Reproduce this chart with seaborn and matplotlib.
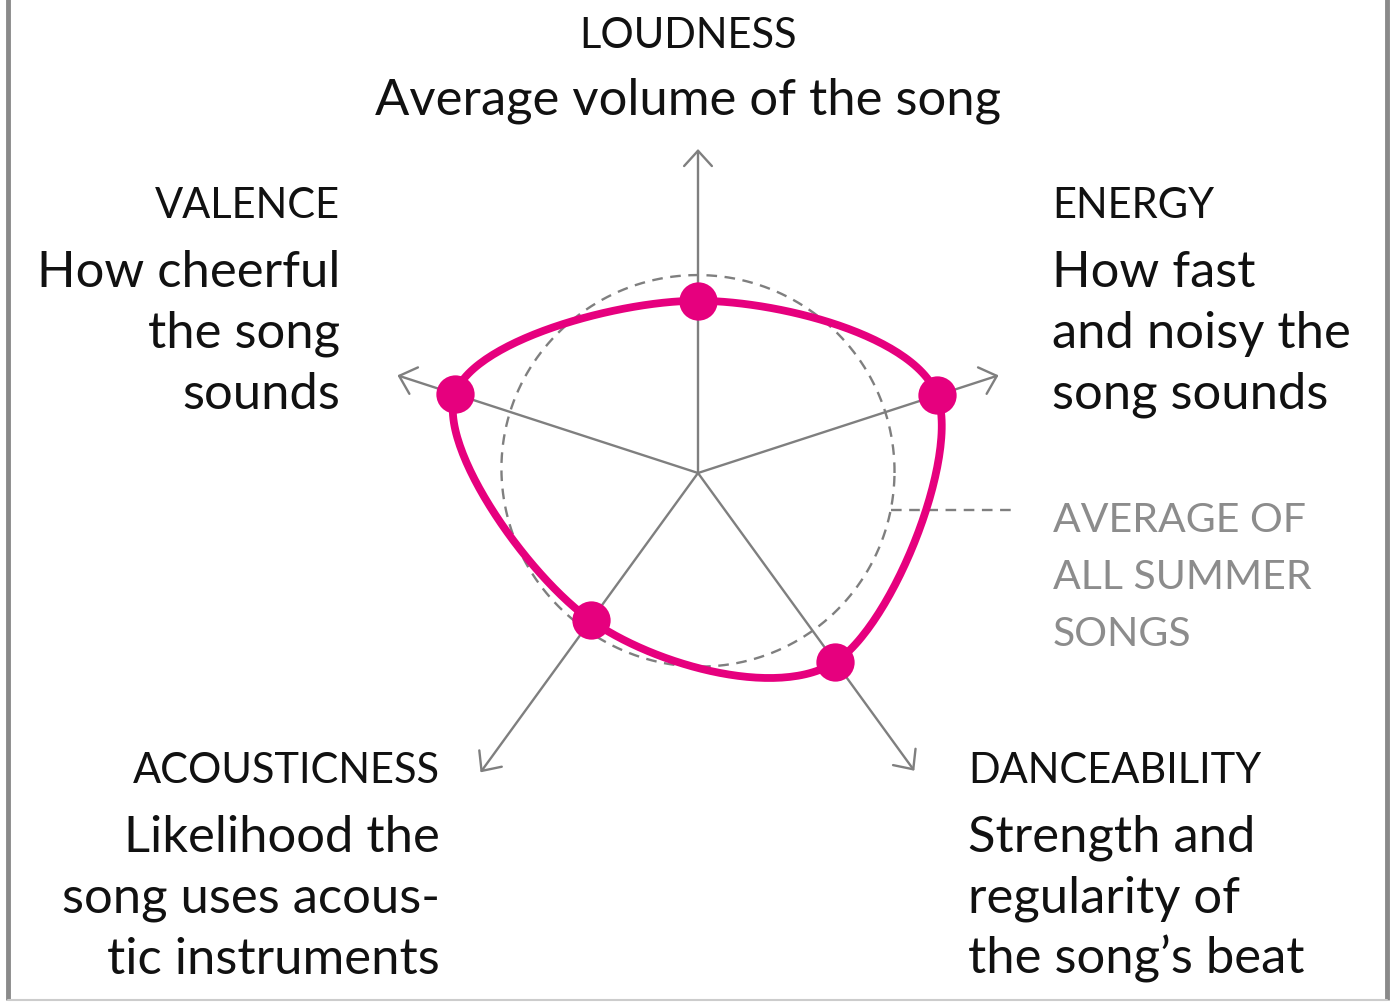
import numpy as np
import pandas as pd
import seaborn as sns
import matplotlib.pyplot as plt

# radar values, relative to the average summer song (1.0 = average)
features = ["LOUDNESS", "ENERGY", "DANCEABILITY", "ACOUSTICNESS", "VALENCE"]
descriptions = [
    ["Average volume of the song"],
    ["How fast", "and noisy the", "song sounds"],
    ["Strength and", "regularity of", "the song\u2019s beat"],
    ["Likelihood the", "song uses acous-", "tic instruments"],
    ["How cheerful", "the song", "sounds"],
]
song_values = [0.87, 1.27, 1.18, 0.92, 1.29]
average_values = [1.0, 0.995, 0.985, 0.97, 1.0]
average_label = ["AVERAGE OF", "ALL SUMMER", "SONGS"]

PINK = "#E6007E"
GREY = "#7f7f7f"
FONT = "Lato"


def set_style():
    sns.set_style("white")
    plt.rcParams["font.family"] = FONT


def catmull_rom_closed(pts, n=60):
    """Closed Catmull-Rom spline through the points (like d3 curveCardinalClosed)"""
    pts = np.asarray(pts)
    k = len(pts)
    out = []
    for i in range(k):
        p0, p1, p2, p3 = pts[i - 1], pts[i], pts[(i + 1) % k], pts[(i + 2) % k]
        t = np.linspace(0, 1, n, endpoint=False)[:, None]
        out.append(
            0.5
            * (
                2 * p1
                + (-p0 + p2) * t
                + (2 * p0 - 5 * p1 + 4 * p2 - p3) * t**2
                + (-p0 + 3 * p1 - 3 * p2 + p3) * t**3
            )
        )
    out.append(pts[:1])
    return np.vstack(out)


def polar_smooth(values, angles, n=400):
    """Smooth radius over angle (periodic), used for the average ring"""
    a = np.linspace(0, 2 * np.pi, n)
    order = np.argsort(angles)
    ang = np.asarray(angles)[order]
    val = np.asarray(values)[order]
    ang = np.concatenate([ang - 2 * np.pi, ang, ang + 2 * np.pi])
    val = np.concatenate([val, val, val])
    r = np.interp(a, ang, val)
    # light smoothing so the ring stays round
    kern = np.ones(41) / 41
    r = np.convolve(np.concatenate([r[-20:], r, r[:20]]), kern, mode="valid")
    return a, r


set_style()
fig = plt.figure(figsize=(13.93, 10.04), dpi=100)
ax = fig.add_axes([0, 0, 1, 1])
ax.set_xlim(0, 1393)
ax.set_ylim(1004, 0)
ax.axis("off")

cx, cy = 698, 474
scale = 198  # pixels per unit
angles = np.deg2rad([90, 18, -54, -126, 162])
axis_len = [324, 316, 368, 370, 316]

# axes with open arrow heads
for ang, ln in zip(angles, axis_len):
    ax.annotate(
        "",
        xy=(cx + ln * np.cos(ang), cy - ln * np.sin(ang)),
        xytext=(cx, cy),
        arrowprops=dict(
            arrowstyle="->,head_length=0.55,head_width=0.5",
            color=GREY,
            lw=1.7,
            shrinkA=0,
            shrinkB=0,
            mutation_scale=20,
        ),
        zorder=1,
    )

# average ring (dashed)
a, r = polar_smooth(average_values, angles)
ax.plot(
    cx + r * scale * np.cos(a),
    cy - r * scale * np.sin(a),
    color=GREY,
    lw=1.7,
    ls=(0, (4.5, 3.2)),
    zorder=2,
)
# leader from ring to label
lead_ang = np.deg2rad(-11)
lead_r = np.interp(lead_ang % (2 * np.pi), a, r) * scale
ax.plot(
    [cx + lead_r * np.cos(lead_ang), 1017],
    [cy - lead_r * np.sin(lead_ang)] * 2,
    color=GREY,
    lw=1.7,
    ls=(0, (4.5, 3.2)),
    zorder=2,
)

# song shape
pts = np.column_stack(
    [
        cx + np.array(song_values) * scale * np.cos(angles),
        cy - np.array(song_values) * scale * np.sin(angles),
    ]
)
curve = catmull_rom_closed(pts)
df_curve = pd.DataFrame({"x": curve[:, 0], "y": curve[:, 1]})
sns.lineplot(
    data=df_curve, x="x", y="y", sort=False, estimator=None,
    color=PINK, lw=5.6, ax=ax, zorder=3,
)
df_pts = pd.DataFrame({"x": pts[:, 0], "y": pts[:, 1], "feature": features})
sns.scatterplot(
    data=df_pts, x="x", y="y", color=PINK, s=760, linewidth=0, ax=ax, zorder=4,
)
ax.set_xlim(0, 1393)
ax.set_ylim(1004, 0)
ax.set_xlabel("")
ax.set_ylabel("")

# labels: (x, alignment, title baseline, first desc baseline)
cat_fs, desc_fs, step = 30, 36.5, 61
label_pos = [
    (688, "center", 48, 115),
    (1052, "left", 218, 287),
    (968, "left", 783, 852),
    (440, "right", 783, 852),
    (340, "right", 218, 287),
]
for name, desc, (x, ha, ty, dy) in zip(features, descriptions, label_pos):
    ax.text(x, ty, name, ha=ha, va="baseline", fontsize=cat_fs, color="#111111")
    for i, line in enumerate(desc):
        ax.text(x, dy + i * step, line, ha=ha, va="baseline",
                fontsize=desc_fs, color="#111111")

for i, line in enumerate(average_label):
    ax.text(1053, 532 + i * 57, line, ha="left", va="baseline",
            fontsize=29.5, color="#8c8c8c")

# frame on left, right, bottom
ax.plot([8, 8], [0, 1001], color="#8a8a8a", lw=3.5, solid_capstyle="butt")
ax.plot([1387, 1387], [0, 1001], color="#8a8a8a", lw=3.5, solid_capstyle="butt")
ax.plot([8, 1387], [1001, 1001], color="#cccccc", lw=1.5)

fig.savefig("out.png", dpi=100)
